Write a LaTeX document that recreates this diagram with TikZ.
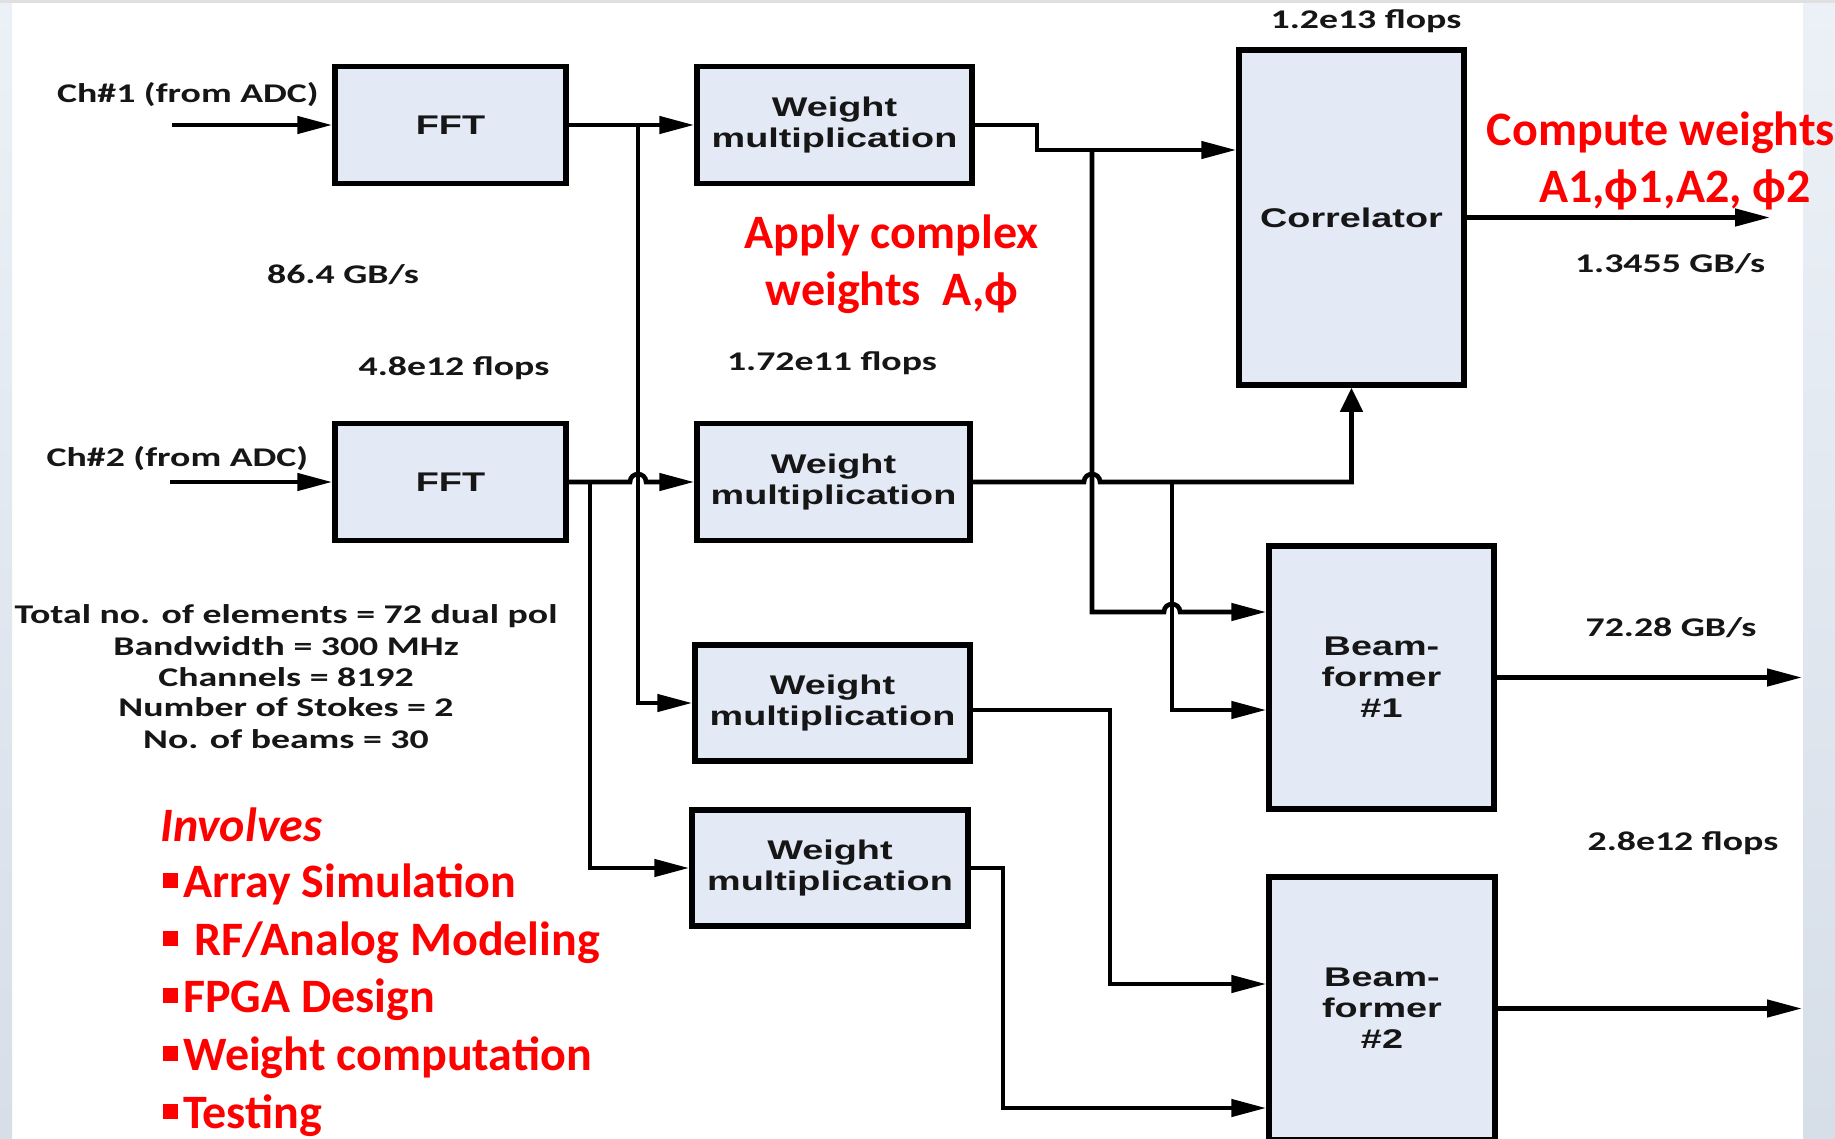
\documentclass[tikz,border=0pt]{standalone}
\usepackage{fontspec}
\setmainfont{Carlito}
% the block diagram is set horizontally widened
\newfontfamily\lblfont[FakeStretch=1.4]{Carlito}
\newfontfamily\boxfont[FakeStretch=1.4]{Liberation Sans}
\newfontfamily\redfont{Carlito}
\usetikzlibrary{arrows.meta}

\definecolor{boxfill}{RGB}{227,233,245}
\definecolor{redtxt}{RGB}{255,0,0}
\definecolor{inktxt}{RGB}{22,22,22}
\definecolor{sidebg}{RGB}{236,241,247}
\definecolor{sidedark}{RGB}{214,222,232}

\newcommand\redsq{\rule[9pt]{15pt}{15pt}}

\tikzset{
  blk/.style={draw=black, line width=5.5pt, fill=boxfill, inner sep=0pt,
    align=center, text=inktxt,
    font=\boxfont\bfseries\fontsize{27}{31}\selectfont},
  conn/.style={line width=4.6pt, -{Triangle[length=35pt,width=17pt]}},
  connup/.style={line width=4.6pt, -{Triangle[length=24pt,width=22pt]}},
  lbl/.style={inner sep=0pt, anchor=base, text=inktxt,
    font=\lblfont\bfseries\fontsize{27}{31}\selectfont},
  stat/.style={inner sep=0pt, anchor=base, text=inktxt,
    font=\lblfont\bfseries\fontsize{27}{31}\selectfont},
  note/.style={inner sep=0pt, anchor=base, text=redtxt,
    font=\redfont\bfseries\fontsize{48}{57}\selectfont},
}

\begin{document}
\begin{tikzpicture}[x=1pt,y=-1pt]
\useasboundingbox (0,0) rectangle (1835,1138);
\clip (0,0) rectangle (1835,1138);

% page background and side margins
\fill[white] (0,0) rectangle (1835,1138);
\shade[top color=sidebg, bottom color=sidedark] (0,0) rectangle (12,1138);
\shade[top color=sidebg, bottom color=sidedark] (1803,0) rectangle (1835,1138);
\fill[black!12] (0,0) rectangle (1835,2.5);

% processing blocks
\node[blk, minimum width=231pt, minimum height=117pt] (fft1) at (450.5,125) {FFT};
\node[blk, minimum width=231pt, minimum height=117pt] (fft2) at (450.5,482) {FFT};
\node[blk, minimum width=275pt, minimum height=117pt] (wm1) at (834.5,125) {Weight\\multiplication};
\node[blk, minimum width=273pt, minimum height=117pt] (wm2) at (833.5,482) {Weight\\multiplication};
\node[blk, minimum width=275pt, minimum height=116pt] (wm3) at (832.5,703) {Weight\\multiplication};
\node[blk, minimum width=276pt, minimum height=116pt] (wm4) at (830,868) {Weight\\multiplication};
\node[blk, minimum width=225pt, minimum height=335pt] (corr) at (1351.5,217.5) {Correlator};
\node[blk, minimum width=225pt, minimum height=263pt] (bf1) at (1381.5,677.5) {Beam-\\former\\\#1};
\node[blk, minimum width=226pt, minimum height=263pt] (bf2) at (1382,1008.5) {Beam-\\former\\\#2};

% connector end points and junctions
\coordinate (in1) at (172,125);
\coordinate (in2) at (170,482);
\coordinate (j1) at (638,125);
\coordinate (j2) at (590,482);
\coordinate (s1) at (1037,150);
\coordinate (j3) at (1092,150);
\coordinate (j4) at (1172,482);
\coordinate (y612) at (0,612);
\coordinate (y710) at (0,710);
\coordinate (y984) at (0,984);
\coordinate (y1108) at (0,1108);
\coordinate (o1) at (1770,217.5);
\coordinate (o2) at (1802,677.5);
\coordinate (o3) at (1802,1008.5);

% inputs
\draw[conn] (in1) -- (fft1.west);
\draw[conn] (in2) -- (fft2.west);

% channel 1 spectrum to its weight blocks
\draw[conn] (fft1.east) -- (wm1.west);
\draw[conn] (j1) |- (wm3.west);

% channel 2 spectrum, hopping over the channel 1 bus
\draw[conn] (fft2.east) -- (630,482) .. controls (630,471.5) and (646,471.5) .. (646,482) -- (wm2.west);
\draw[conn] (j2) |- (wm4.west);

% weighted channel 1 to correlator and beamformer 1
\draw[conn] (wm1.east) -| (s1) -- (corr.west |- s1);
\draw[conn] (j3) -- (1092,612) -- (1164,612)
  .. controls (1164,601.5) and (1180,601.5) .. (1180,612) -- (bf1.west |- y612);

% weighted channel 2 to correlator and beamformer 1
\draw[connup] (wm2.east) -- (1084,482)
  .. controls (1084,471.5) and (1100,471.5) .. (1100,482) -| (corr.south);
\draw[conn] (j4) |- (bf1.west |- y710);

% beamformer 2 inputs
\draw[conn] (wm3.east |- y710) -- (1110,710) -- (1110,984) -- (bf2.west |- y984);
\draw[conn] (wm4.east) -- (1003,868) -- (1003,1108) -- (bf2.west |- y1108);

% outputs
\draw[conn] (corr.east) -- (o1);
\draw[conn] (bf1.east) -- (o2);
\draw[conn] (bf2.east) -- (o3);

% rates and loads
\node[lbl] (ch1) at (188,102) {Ch\#1 (from ADC)};
\node[lbl] (ch2) at (177.5,466) {Ch\#2 (from ADC)};
\node[lbl] (rate1) at (343,283) {86.4 GB/s};
\node[lbl] (fl1) at (454,375) {4.8e12 flops};
\node[lbl] (fl2) at (832,370) {1.72e11 flops};
\node[lbl] (fl3) at (1366,28) {1.2e13 flops};
\node[lbl] (rate2) at (1670,272) {1.3455 GB/s};
\node[lbl] (rate3) at (1671,636) {72.28 GB/s};
\node[lbl] (fl4) at (1683,850) {2.8e12 flops};

% system parameters
\node[stat] (p1) at (286,623) {Total no. of elements = 72 dual pol};
\node[stat] (p2) at (286,655) {Bandwidth = 300 MHz};
\node[stat] (p3) at (286,686) {Channels = 8192};
\node[stat] (p4) at (286,716) {Number of Stokes = 2};
\node[stat] (p5) at (286,748) {No. of beams = 30};

% annotations
\node[note] (ap1) at (891.5,248) {Apply complex};
\node[note] (ap2) at (892,305) {weights\ \ A,ϕ};
\node[note] (cw1) at (1661,145) {Compute weights};
\node[note] (cw2) at (1675,202) {A1,ϕ1,A2, ϕ2};

\node[note, anchor=base west] (inv) at (160,841) {\itshape Involves};
\node[note, anchor=base west] (t1) at (163,897) {\redsq\hspace{5pt}Array Simulation};
\node[note, anchor=base west] (t2) at (163,955) {\redsq\hspace{16pt}RF/Analog Modeling};
\node[note, anchor=base west] (t3) at (163,1012) {\redsq\hspace{5pt}FPGA Design};
\node[note, anchor=base west] (t4) at (163,1070) {\redsq\hspace{5pt}Weight computation};
\node[note, anchor=base west] (t5) at (163,1128) {\redsq\hspace{5pt}Testing};
\end{tikzpicture}
\end{document}
